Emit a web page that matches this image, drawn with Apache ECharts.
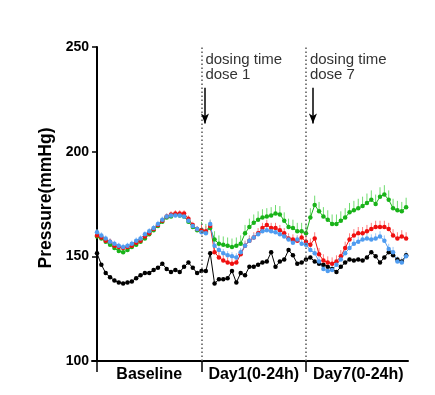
<!DOCTYPE html>
<html><head><meta charset="utf-8">
<script src="https://cdn.jsdelivr.net/npm/echarts@6/dist/echarts.min.js"></script>
<style>html,body{margin:0;padding:0;background:#fff}#c{width:435px;height:395px}</style>
</head><body><div id="c"></div>
<script>
// ---- data (hourly means, 24 points per segment) ----
const segmentLabels = ['Baseline', 'Day1(0-24h)', 'Day7(0-24h)'];
const segmentStarts = [0, 24, 48];
const segmentCenters = [12, 36, 60];
const dosingHours = [24, 48];
const yTicks = [100, 150, 200, 250];

const blackVals = [
  151.5,146,142,140,138.5,137.5,137,137.5,138,139.5,141,142,142,143.5,144.5,146.5,144,142.5,143.5,142.5,145,147,144.5,142,
  143,143,151.5,137,139,139,139.5,143,137.5,142,141,145,145,146,147,147.5,152,145,147.5,148.5,153,150.5,146.5,147,
  148.5,149.5,147.5,146.5,146,145,144,142.5,145,147,148.5,148,148.5,148,149.5,152,150,147,149.5,152,150.5,148.5,147.5,150.5
];
const redVals = [
  160,159,157.5,157,155,154.5,154,154.5,155,156.5,157.5,159.5,161,163,165,167,169,170,170.5,170.5,170.5,168,165,163,
  162.5,162,164.5,152,149.5,148,147,146.5,147,151,155,157.5,159,161,163.5,165,163.5,163.5,162.5,161,158.5,158,157.5,159,
  157,155.5,158.5,151,148,147,146.5,147.5,150,154,158,160,161,161,162,163,164,164,164,163,160,158.5,159.5,158.5
];
const greenVals = [
  159.5,158.5,157,155.5,154,152.5,152,153,154.5,155.5,157,158.5,160.5,162.5,164.5,166.5,168.5,169,170,169.5,169,166.5,164,162.5,
  162.5,161.5,163.5,158,156,155.5,155,154.5,155,156,161,164,166,167.5,168.5,169,169.5,170.5,170,167,164,163.5,162,162,
  161,168.5,174.5,171.5,169,167.5,165.5,165.5,167,168.5,171,172,173,174,175.5,177,175,178.5,179.5,177,173,172,171.5,173.5
];
const blueVals = [
  161.5,160,158.5,157,156,155,154.5,155,156,157.5,158.5,160.5,162,163.5,165.5,167.5,169,169.5,169.5,169.5,169,167,164.5,163,
  161.5,161,165.5,155,153,151.5,150.5,150,149.5,152,155,157.5,159,160.5,162,162.5,162,161.5,160.5,159.5,158,156.5,158,156,
  155.5,153,151.5,147.5,144,143,143.5,146,148.5,151.5,154,156,157,158,158.5,158,158.5,159.5,157.5,153.5,152,147.5,147,150
];
// approximate SEM read per segment (upper error bars)
const blackSem = [0.8, 0.8, 0.8];
const redSem = [1.5, 2.5, 3];
const greenSem = [1.5, 4, 4.5];
const blueSem = [1.5, 2, 2.5];

const annotations = [
  {hour: 24.9, text: 'dosing time\ndose 1', arrowTop: 230.5, arrowBottom: 213.5},
  {hour: 48.9, text: 'dosing time\ndose 7', arrowTop: 230.5, arrowBottom: 213.5}
];
const arrowHours = [24.8, 49.6];

const chart = echarts.init(document.getElementById('c'), null, {renderer: 'canvas'});
const FONT = 'Liberation Sans, Arial, sans-serif';

const pts = vals => vals.map((v, i) => [i, v]);
const errPts = (vals, sem) => vals.map((v, i) => [i, v, sem[Math.floor(i / 24)]]);

function errSeries(vals, sem, color) {
  return {
    type: 'custom', silent: true, z: 1,
    data: errPts(vals, sem),
    renderItem: (params, api) => {
      const p0 = api.coord([api.value(0), api.value(1)]);
      const p1 = api.coord([api.value(0), api.value(1) + api.value(2)]);
      return {type: 'line', shape: {x1: p0[0], y1: p0[1], x2: p1[0], y2: p1[1]},
              style: {stroke: color, lineWidth: 1}};
    }
  };
}
function lineSeries(name, vals, color, extra) {
  return Object.assign({
    name, type: 'line', data: pts(vals), symbol: 'circle', symbolSize: 4.5,
    showSymbol: true, z: 3,
    itemStyle: {color}, lineStyle: {color, width: 1}, animation: false
  }, extra || {});
}

const markLineData = dosingHours.map(h => ({
  xAxis: h,
  lineStyle: {color: '#555', width: 1.5, type: [1.5, 2.5]},
  symbol: 'none'
})).concat(annotations.map((a, k) => [
  {coord: [arrowHours[k], a.arrowTop], symbol: 'none', lineStyle: {color: '#000', width: 1.5, type: 'solid'}},
  {coord: [arrowHours[k], a.arrowBottom], symbol: 'arrow', symbolSize: [6, 10]}
]));

chart.setOption({
  animation: false,
  grid: {left: 92, right: 27, top: 47, bottom: 34},
  xAxis: {
    type: 'value', min: -1.15, max: 71.43,
    axisLine: {show: true, lineStyle: {color: '#000', width: 2}},
    axisTick: {show: true, customValues: segmentStarts, length: 11, lineStyle: {color: '#000', width: 1.5}},
    axisLabel: {show: true, customValues: segmentCenters, margin: 6,
      formatter: v => segmentLabels[segmentCenters.indexOf(v)] || '',
      color: '#000', fontFamily: FONT, fontWeight: 'bold', fontSize: 16},
    splitLine: {show: false}
  },
  yAxis: {
    type: 'value', min: yTicks[0], max: yTicks[yTicks.length - 1], interval: 50,
    axisLine: {show: true, onZero: true, lineStyle: {color: '#000', width: 2}},
    axisTick: {show: true, length: 5, lineStyle: {color: '#000', width: 1.5}},
    axisLabel: {color: '#000', fontFamily: FONT, fontWeight: 'bold', fontSize: 14, margin: 3},
    splitLine: {show: false},
    name: 'Pressure(mmHg)', nameLocation: 'middle', nameGap: 34,
    nameTextStyle: {color: '#000', fontFamily: FONT, fontWeight: 'bold', fontSize: 17.5, padding: [0, 0, 0, 12]}
  },
  series: [
    errSeries(blackVals, blackSem, '#555'),
    errSeries(greenVals, greenSem, '#6fdc6f'),
    errSeries(redVals, redSem, '#ff7a7a'),
    errSeries(blueVals, blueSem, '#9cc8f6'),
    lineSeries('black', blackVals, '#000', {
      markLine: {silent: true, animation: false, label: {show: false}, symbol: 'none', data: markLineData}
    }),
    lineSeries('green', greenVals, '#19b319'),
    lineSeries('red', redVals, '#f01010'),
    lineSeries('blue', blueVals, '#4f9cf0')
  ]
});

chart.setOption({
  graphic: annotations.map(a => {
    const p = chart.convertToPixel({gridIndex: 0}, [a.hour, 247.6]);
    return {type: 'text', x: p[0], y: p[1], silent: true,
      style: {text: a.text, fill: '#333', font: '15px ' + FONT, lineHeight: 15,
              textAlign: 'left', textVerticalAlign: 'top'}};
  })
});
</script>
</body></html>
